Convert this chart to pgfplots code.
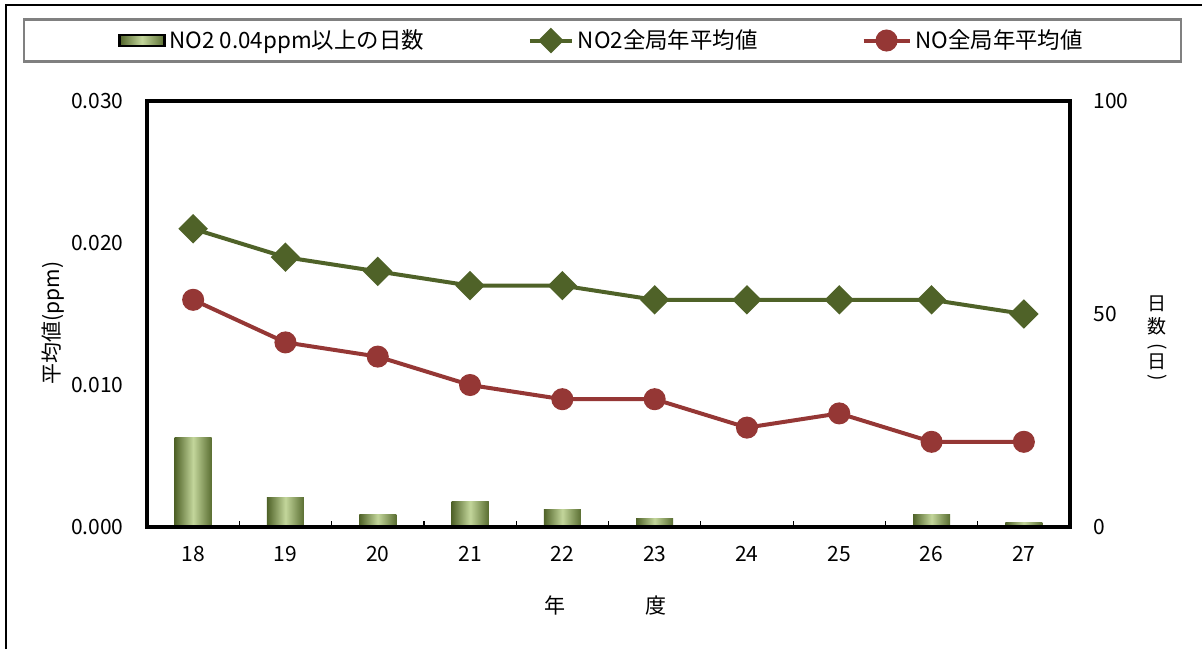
\documentclass[border=0pt]{standalone}
\usepackage{pgfplots}
\pgfplotsset{compat=1.18}
\usepackage{fontspec}
\setmainfont{Noto Sans CJK JP}
\definecolor{nogreen}{HTML}{4F6228}
\definecolor{nored}{HTML}{953735}
\definecolor{barlight}{HTML}{C3D69B}
\definecolor{bardark}{HTML}{4F6228}
\definecolor{barright}{HTML}{5A6E32}

\pgfplotstableread{
x no2 no
18 0.021 0.016
19 0.019 0.013
20 0.018 0.012
21 0.017 0.010
22 0.017 0.009
23 0.016 0.009
24 0.016 0.007
25 0.016 0.008
26 0.016 0.006
27 0.015 0.006
}\ppmtable

\begin{document}
\fontsize{10.5pt}{12pt}\selectfont
\begin{tikzpicture}
\path[use as bounding box] (0,0) rectangle (601pt,324.5pt);
\draw[black, line width=0.6pt] (3pt,0) -- (3pt,322pt) -- (601pt,322pt);

% days (right axis) with bars, one plot per bar so each bar gets its own shading
\begin{axis}[
  at={(73.5pt,61pt)}, anchor=south west,
  scale only axis, width=461.5pt, height=213pt,
  xmin=17.5, xmax=27.5, ymin=0, ymax=100,
  hide x axis,
  axis y line*=right,
  axis line style={draw=none},
  ytick={0,50,100},
  major tick length=0pt,
  yticklabel style={anchor=west, xshift=8pt, font=\fontsize{10.5pt}{12pt}\selectfont},
  /pgf/number format/assume math mode=true,
  ybar, bar width=18.5pt, bar shift=0pt,
  every axis plot/.append style={draw=none, left color=bardark, right color=barright, middle color=barlight},
]
\addplot coordinates {(18,21)};
\addplot coordinates {(19,7)};
\addplot coordinates {(20,3)};
\addplot coordinates {(21,6)};
\addplot coordinates {(22,4)};
\addplot coordinates {(23,2)};
\addplot coordinates {(24,0)};
\addplot coordinates {(25,0)};
\addplot coordinates {(26,3)};
\addplot coordinates {(27,1)};
\end{axis}

% ppm (left axis) with lines
\begin{axis}[
  at={(73.5pt,61pt)}, anchor=south west,
  scale only axis, width=461.5pt, height=213pt,
  xmin=17.5, xmax=27.5, ymin=0, ymax=0.03,
  axis line style={line width=2pt, line cap=rect},
  xtick={18,...,27},
  minor xtick={18.5,19.5,...,26.5},
  xtick pos=lower,
  ytick pos=left,
  ytick={0,0.01,0.02,0.03},
  major tick length=0pt,
  minor tick length=3pt,
  tick align=inside,
  minor tick style={line width=0.6pt, black},
  scaled y ticks=false,
  yticklabel={\pgfmathprintnumber[fixed, fixed zerofill, precision=3]{\tick}},
  yticklabel style={anchor=east, xshift=-8pt, font=\fontsize{10.5pt}{12pt}\selectfont},
  xticklabel style={yshift=-6pt, font=\fontsize{10.5pt}{12pt}\selectfont},
  /pgf/number format/assume math mode=true,
  ylabel={平均値(ppm)},
  ylabel style={at={(axis description cs:-0.1018,0.479)}, anchor=center, font=\fontsize{10.5pt}{12pt}\selectfont},
  xlabel={年\hspace{40pt}度},
  xlabel style={at={(axis description cs:0.497,-0.185)}, anchor=center, font=\fontsize{10.5pt}{12pt}\selectfont},
  legend columns=3,
  legend style={
    at={(0.4935,1.142)}, anchor=center,
    draw=gray, line width=1.2pt,
    inner xsep=47pt, inner ysep=3pt,
    font=\fontsize{11.2pt}{12pt}\selectfont,
    /tikz/every odd column/.append style={column sep=0pt},
    /tikz/every even column/.append style={column sep=50pt},
  },
  clip=false,
]
\addlegendimage{legend image code/.code={
  \fill[left color=bardark, right color=barright, middle color=barlight] (0pt,-2.75pt) rectangle (22.5pt,2.75pt);}}
\addlegendentry{NO2 0.04ppm以上の日数}
\addplot[nogreen, line width=2pt, mark=square*, mark size=4.2pt, mark options={rotate=45, solid, fill=nogreen},
  legend image code/.code={\draw[nogreen, line width=2pt] (0pt,0pt) -- (21pt,0pt);
     \fill[nogreen] (10.5pt,0pt) +(0,5pt) -- +(5pt,0) -- +(0,-5pt) -- +(-5pt,0) -- cycle;}]
  table[x=x, y=no2] {\ppmtable};
\addlegendentry{NO2全局年平均値}
\addplot[nored, line width=2pt, mark=*, mark size=4.5pt, mark options={solid, fill=nored},
  legend image code/.code={\draw[nored, line width=2pt] (0pt,0pt) -- (23pt,0pt);
     \fill[nored] (11.5pt,0pt) circle (4.5pt);}]
  table[x=x, y=no] {\ppmtable};
\addlegendentry{NO全局年平均値}
\begin{scope}[every node/.style={inner sep=0pt, font=\fontsize{9.5pt}{10pt}\selectfont}]
\node at (rel axis cs:1.0943,0.5235) {日};
\node at (rel axis cs:1.0943,0.4718) {数};
\node[rotate=-90] at (rel axis cs:1.0943,0.4225) {(};
\node at (rel axis cs:1.0943,0.3873) {日};
\node[rotate=-90] at (rel axis cs:1.0943,0.3498) {)};
\end{scope}
\end{axis}
\end{tikzpicture}
\end{document}
